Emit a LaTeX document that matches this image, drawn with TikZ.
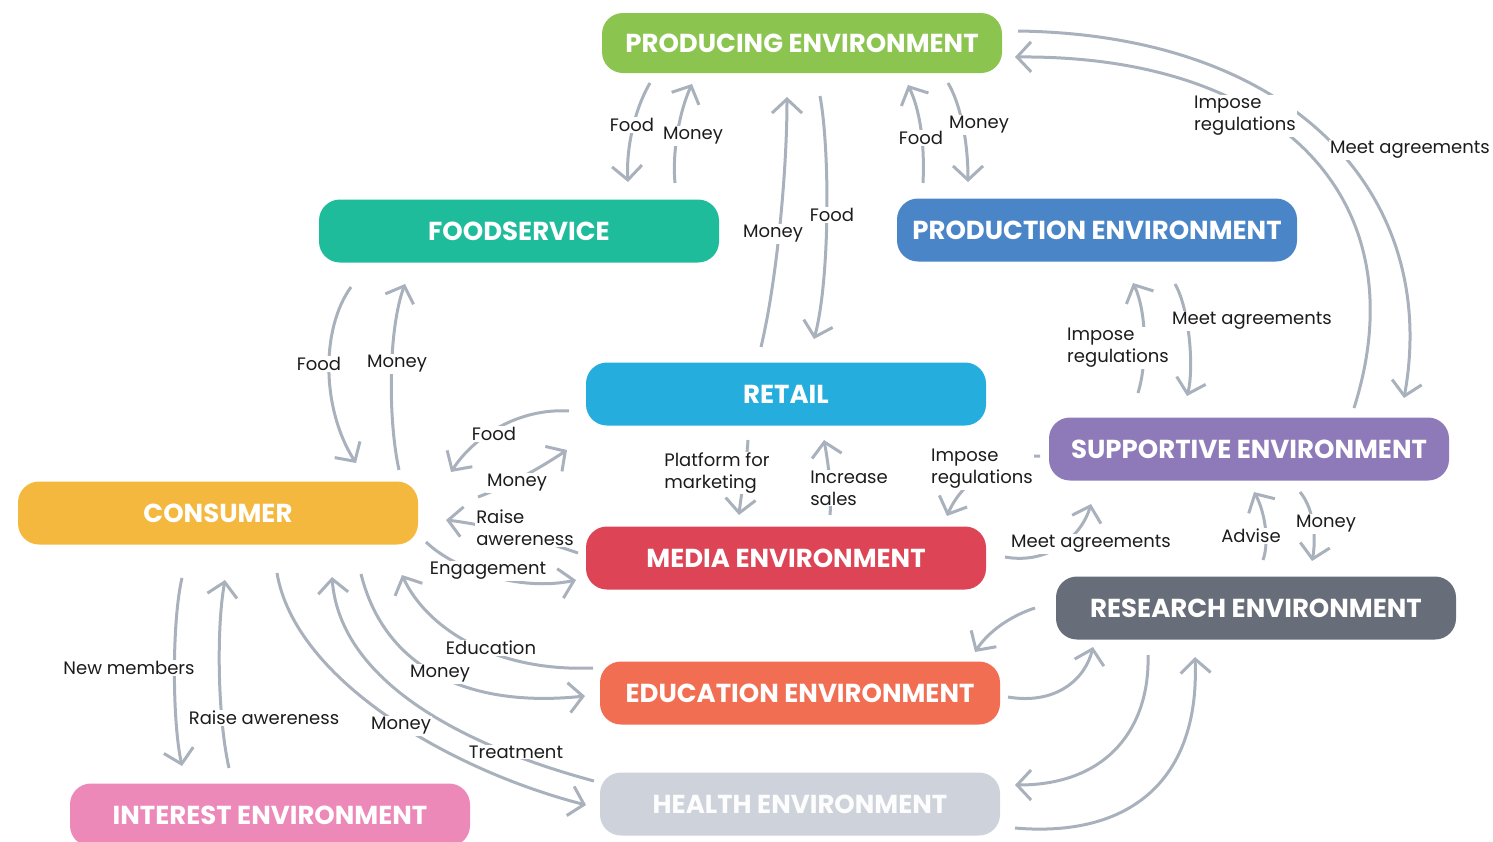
\documentclass[tikz,border=0pt]{standalone}
\usepackage{fontspec}
\setmainfont{Poppins}
\usetikzlibrary{arrows.meta}
\definecolor{cgreen}{HTML}{8CC450}
\definecolor{cteal}{HTML}{1FBC9C}
\definecolor{cblue}{HTML}{4A86C7}
\definecolor{ccyan}{HTML}{25AEDD}
\definecolor{cpurple}{HTML}{8E7AB8}
\definecolor{cyellow}{HTML}{F5B83E}
\definecolor{cred}{HTML}{DD4455}
\definecolor{cslate}{HTML}{676D79}
\definecolor{corange}{HTML}{F26E53}
\definecolor{cmist}{HTML}{CED3DB}
\definecolor{cpink}{HTML}{EC89B8}
\definecolor{arrowgray}{HTML}{A9B1BD}
\definecolor{labelink}{HTML}{1C1C1C}
\begin{document}
\begin{tikzpicture}[x=1pt,y=-1pt,
  envbox/.style={rectangle, rounded corners=21pt, minimum width=400pt, minimum height=63pt,
    inner sep=0pt, text=white, font=\fontsize{26}{28}\selectfont\bfseries},
  flow/.style={draw=arrowgray, line width=3pt, -{Straight Barb[length=14pt,width=30pt]}},
  lbl/.style={fill=white, inner sep=1pt, text=labelink, align=left,
    font=\fontsize{18}{22}\selectfont}]
\useasboundingbox (0,0) rectangle (1493,841);
\clip (0,0) rectangle (1493,841);

% environments
\node[envbox, fill=cgreen, minimum height=60pt] (prod) at (802,43) {PRODUCING ENVIRONMENT};
\node[envbox, fill=cteal]   (food)   at (519,231) {FOODSERVICE};
\node[envbox, fill=cblue]   (pdn)    at (1097,230) {PRODUCTION ENVIRONMENT};
\node[envbox, fill=ccyan]   (retail) at (786,394) {RETAIL};
\node[envbox, fill=cpurple] (supp)   at (1249,449) {SUPPORTIVE ENVIRONMENT};
\node[envbox, fill=cyellow] (cons)   at (218,513) {CONSUMER};
\node[envbox, fill=cred]    (media)  at (786,558) {MEDIA ENVIRONMENT};
\node[envbox, fill=cslate]  (res)    at (1256,608) {RESEARCH ENVIRONMENT};
\node[envbox, fill=corange] (edu)    at (800,693) {EDUCATION ENVIRONMENT};
\node[envbox, fill=cmist, text=white!96!cmist] (health) at (800,804) {HEALTH ENVIRONMENT};
\node[envbox, fill=cpink]   (inter)  at (270,815) {INTEREST ENVIRONMENT};

% flows around the producing environment
\draw[flow] ([shift={(-152,40)}]prod.center) .. controls (634,110) and (626,150) .. ([shift={(109,-49)}]food.center);
\draw[flow] ([shift={(156,-48)}]food.center) .. controls (672,150) and (680,110) .. ([shift={(-110,41)}]prod.center);
\draw[flow] ([shift={(-25,-47)}]retail.center) .. controls (777,280) and (787,170) .. ([shift={(-15,54)}]prod.center);
\draw[flow] ([shift={(18,53)}]prod.center) .. controls (830,150) and (830,280) .. ([shift={(28,-55)}]retail.center);
\draw[flow] ([shift={(-174,-47)}]pdn.center) .. controls (925,140) and (919,108) .. ([shift={(106,42)}]prod.center);
\draw[flow] ([shift={(146,40)}]prod.center) .. controls (960,103) and (968,140) .. ([shift={(-129,-48)}]pdn.center);
\draw[flow] ([shift={(105,-41)}]supp.center) .. controls (1420,200) and (1280,55) .. ([shift={(213,14)}]prod.center);
\draw[flow] ([shift={(216,-12)}]prod.center) .. controls (1300,35) and (1440,200) .. ([shift={(155,-51)}]supp.center);

% production and supportive environments
\draw[flow] ([shift={(-111,-56)}]supp.center) .. controls (1148,360) and (1146,310) .. ([shift={(36,53)}]pdn.center);
\draw[flow] ([shift={(78,54)}]pdn.center) .. controls (1190,310) and (1194,370) .. ([shift={(-62,-53)}]supp.center);

% consumer and foodservice
\draw[flow] ([shift={(-168,56)}]food.center) .. controls (320,330) and (322,410) .. ([shift={(138,-50)}]cons.center);
\draw[flow] ([shift={(181,-43)}]cons.center) .. controls (388,420) and (388,330) .. ([shift={(-114,53)}]food.center);

% consumer, retail and media
\draw[flow] ([shift={(-217,17)}]retail.center) .. controls (520,408) and (475,435) .. ([shift={(233,-41)}]cons.center);
\draw[flow] ([shift={(260,-16)}]cons.center) .. controls (510,485) and (540,468) .. ([shift={(-219,56)}]retail.center);
\draw[flow] ([shift={(-208,-5)}]media.center) .. controls (540,540) and (490,525) .. ([shift={(228,7)}]cons.center);
\draw[flow] ([shift={(208,29)}]cons.center) .. controls (455,570) and (520,592) .. ([shift={(-210,22)}]media.center);
\draw[flow] ([shift={(-38,46)}]retail.center) .. controls (746,470) and (741,495) .. ([shift={(-47,-43)}]media.center);
\draw[flow] ([shift={(44,-43)}]media.center) .. controls (832,490) and (828,462) .. ([shift={(38,46)}]retail.center);
\draw[flow] ([shift={(-209,7)}]supp.center) .. controls (995,455) and (960,485) .. ([shift={(161,-42)}]media.center);
\draw[flow] ([shift={(219,-1)}]media.center) .. controls (1050,565) and (1082,535) .. ([shift={(-158,55)}]supp.center);

% research environment
\draw[flow] ([shift={(51,43)}]supp.center) .. controls (1315,510) and (1316,540) .. ([shift={(56,-47)}]res.center);
\draw[flow] ([shift={(7,-48)}]res.center) .. controls (1270,540) and (1264,510) .. ([shift={(5,43)}]supp.center);
\draw[flow] ([shift={(-221,0)}]res.center) .. controls (1010,616) and (988,632) .. ([shift={(175,-41)}]edu.center);
\draw[flow] ([shift={(208,4)}]edu.center) .. controls (1055,705) and (1085,680) .. ([shift={(-163,39)}]res.center);
\draw[flow] ([shift={(-108,47)}]res.center) .. controls (1150,725) and (1110,785) .. ([shift={(215,-19)}]health.center);
\draw[flow] ([shift={(215,24)}]health.center) .. controls (1130,838) and (1200,780) .. ([shift={(-61,49)}]res.center);

% consumer, interest, education and health
\draw[flow] ([shift={(-36,65)}]cons.center) .. controls (172,620) and (172,720) .. ([shift={(-88,-49)}]inter.center);
\draw[flow] ([shift={(-41,-47)}]inter.center) .. controls (218,720) and (216,630) .. ([shift={(7,67)}]cons.center);
\draw[flow] ([shift={(59,60)}]cons.center) .. controls (295,680) and (450,770) .. ([shift={(-214,1)}]health.center);
\draw[flow] ([shift={(-206,-23)}]health.center) .. controls (460,745) and (340,680) .. ([shift={(114,64)}]cons.center);
\draw[flow] ([shift={(143,61)}]cons.center) .. controls (385,670) and (470,708) .. ([shift={(-215,3)}]edu.center);
\draw[flow] ([shift={(-207,-25)}]edu.center) .. controls (490,672) and (425,625) .. ([shift={(184,62)}]cons.center);

% flow labels
\node[lbl] (l1)  at (632,125) {Food};
\node[lbl] (l2)  at (693,136) {Money};
\node[lbl] (l3)  at (773,234) {Money};
\node[lbl] (l4)  at (832,215) {Food};
\node[lbl] (l5)  at (921,138) {Food};
\node[lbl] (l6)  at (979,125) {Money};
\node[lbl] (l7)  at (1245,116) {Impose\\regulations};
\node[lbl] (l8)  at (1410,150) {Meet agreements};
\node[lbl] (l9)  at (1118,348) {Impose\\regulations};
\node[lbl] (l10) at (1252,321) {Meet agreements};
\node[lbl] (l11) at (319,364) {Food};
\node[lbl] (l12) at (397,364) {Money};
\node[lbl] (l13) at (494,434) {Food};
\node[lbl] (l14) at (517,483) {Money};
\node[lbl] (l15) at (525,528) {Raise\\awereness};
\node[lbl] (l16) at (488,571) {Engagement};
\node[lbl] (l17) at (717,473) {Platform for\\marketing};
\node[lbl] (l18) at (849,488) {Increase\\sales};
\node[lbl] (l19) at (982,469) {Impose\\regulations};
\node[lbl] (l20) at (1091,544) {Meet agreements};
\node[lbl] (l21) at (1326,524) {Money};
\node[lbl] (l22) at (1251,536) {Advise};
\node[lbl] (l27) at (129,668) {New members};
\node[lbl] (l28) at (264,718) {Raise awereness};
\node[lbl] (l29) at (401,726) {Money};
\node[lbl] (l30) at (516,752) {Treatment};
\node[lbl] (l31) at (440,674) {Money};
\node[lbl] (l32) at (491,648) {Education};
\end{tikzpicture}
\end{document}
